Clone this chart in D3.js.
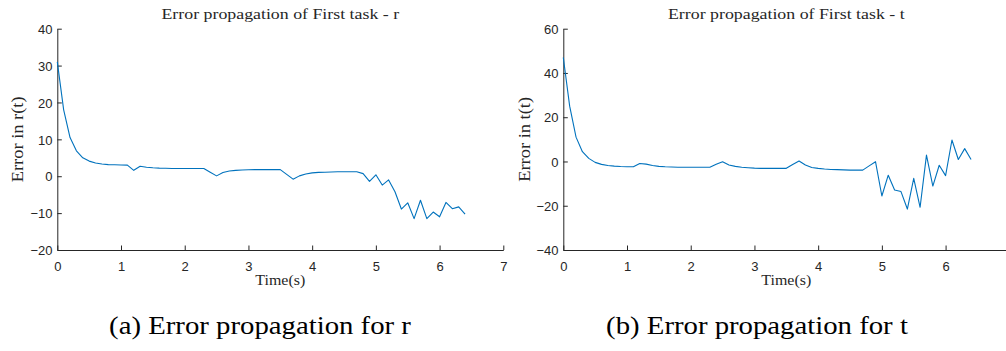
<!DOCTYPE html>
<html>
<head>
<meta charset="utf-8">
<script src="https://cdn.jsdelivr.net/npm/d3@7/dist/d3.min.js"></script>
<style>
  html, body { margin: 0; padding: 0; background: #fff; }
  svg { display: block; }
</style>
</head>
<body>
<svg id="fig" width="1006" height="351"></svg>
<script>
// Sample times (s)
const timeS = [
  0.0, 0.1, 0.2, 0.3, 0.4, 0.5, 0.6, 0.7, 0.8, 0.9,
  1.0, 1.1, 1.2, 1.3, 1.4, 1.5, 1.6, 1.7, 1.8, 1.9,
  2.0, 2.1, 2.2, 2.3, 2.4, 2.5, 2.6, 2.7, 2.8, 2.9,
  3.0, 3.1, 3.2, 3.3, 3.4, 3.5, 3.6, 3.7, 3.8, 3.9,
  4.0, 4.1, 4.2, 4.3, 4.4, 4.5, 4.6, 4.7, 4.8, 4.9,
  5.0, 5.1, 5.2, 5.3, 5.4, 5.5, 5.6, 5.7, 5.8, 5.9,
  6.0, 6.1, 6.2, 6.3, 6.4
];

// Error in r(t)
const errorR = [
  31.0, 18.0, 10.5, 6.9, 5.0, 4.1, 3.6, 3.3, 3.15, 3.1,
  3.05, 3.0, 1.6, 2.7, 2.45, 2.3, 2.2, 2.15, 2.1, 2.1,
  2.1, 2.1, 2.1, 2.1, 1.1, 0.1, 1.0, 1.4, 1.6, 1.7,
  1.75, 1.8, 1.8, 1.8, 1.8, 1.8, 0.5, -0.8, 0.1, 0.6,
  0.9, 1.05, 1.1, 1.15, 1.2, 1.2, 1.2, 1.2, 0.7, -1.4,
  0.4, -2.4, -1.0, -4.2, -8.9, -7.2, -11.5, -6.5, -11.5, -9.7,
  -11.0, -7.1, -8.8, -8.3, -10.3
];

// Error in t(t)
const errorT = [
  47.0, 25.0, 11.0, 4.4, 1.4, -0.4, -1.3, -1.8, -2.1, -2.3,
  -2.4, -2.4, -0.9, -1.2, -1.8, -2.2, -2.4, -2.5, -2.6, -2.6,
  -2.6, -2.6, -2.6, -2.6, -1.3, -0.1, -1.6, -2.2, -2.6, -2.8,
  -3.0, -3.1, -3.1, -3.1, -3.1, -3.1, -1.4, 0.2, -1.6, -2.7,
  -3.1, -3.4, -3.6, -3.7, -3.8, -3.9, -3.9, -3.9, -2.0, -0.1,
  -15.6, -6.2, -12.9, -13.6, -21.5, -7.6, -20.7, 2.9, -11.1, -1.7,
  -6.4, 9.7, 0.9, 5.8, 0.9
];

// Axis ticks (the right panel's axis runs past the page edge, so its last tick is not shown)
const timeTicksR = [0, 1, 2, 3, 4, 5, 6, 7];
const timeTicksT = [0, 1, 2, 3, 4, 5, 6];
const rTicks = [-20, -10, 0, 10, 20, 30, 40];
const tTicks = [-40, -20, 0, 20, 40, 60];

// Texts
const titles = ["Error propagation of First task - r", "Error propagation of First task - t"];
const yLabels = ["Error in r(t)", "Error in t(t)"];
const xLabel = "Time(s)";
const captions = ["(a) Error propagation for r", "(b) Error propagation for t"];

const svg = d3.select("#fig");
const axisColor = "#262626";
const lineColor = "#0072BD";
const serif = "'Liberation Serif', 'Times New Roman', serif";
const sans = "'Liberation Sans', Arial, sans-serif";

// Widen Times-metric text to the proportions of Computer Modern
function stretch(sel, k) {
  sel.each(function () {
    const w = this.getComputedTextLength();
    d3.select(this).attr("textLength", w * k).attr("lengthAdjust", "spacingAndGlyphs");
  });
}

const panels = [
  { values: errorR, yDomain: [-20, 40], yTicks: rTicks, xTicks: timeTicksR, left: 57.3, ylabX: 23, title: titles[0], ylab: yLabels[0], caption: captions[0], capX: 260 },
  { values: errorT, yDomain: [-40, 60], yTicks: tTicks, xTicks: timeTicksT, left: 563.3, ylabX: 530, title: titles[1], ylab: yLabels[1], caption: captions[1], capX: 757 }
];

const plotW = 446, plotTop = 28.7, plotBottom = 250, tickLen = 4.5;

panels.forEach(p => {
  const x = d3.scaleLinear().domain([0, 7]).range([p.left, p.left + plotW]);
  const y = d3.scaleLinear().domain(p.yDomain).range([plotBottom, plotTop]);
  const g = svg.append("g");

  // X axis (ticks pointing inward)
  const xAxis = d3.axisBottom(x).tickValues(p.xTicks).tickFormat(d3.format("d"))
    .tickSizeInner(-tickLen).tickSizeOuter(0).tickPadding(9);
  const gx = g.append("g").attr("transform", `translate(0,${plotBottom})`).call(xAxis);

  // Y axis (ticks pointing inward)
  const yAxis = d3.axisLeft(y).tickValues(p.yTicks).tickFormat(d3.format("d"))
    .tickSizeInner(-tickLen).tickSizeOuter(0).tickPadding(4.8);
  const gy = g.append("g").attr("transform", `translate(${p.left},0)`).call(yAxis);

  [gx, gy].forEach(a => {
    a.select(".domain").attr("stroke", axisColor).attr("stroke-width", 1);
    a.selectAll(".tick line").attr("stroke", axisColor).attr("stroke-width", 1);
    a.selectAll(".tick text").attr("fill", axisColor).attr("font-family", sans).attr("font-size", 13);
  });
  gx.selectAll(".tick text").attr("dy", "0.71em").attr("y", 11.5);
  gy.selectAll(".tick text").attr("dy", "0.36em");

  // Series line
  const line = d3.line().x((d, i) => x(timeS[i])).y(d => y(d));
  g.append("path").datum(p.values)
    .attr("fill", "none").attr("stroke", lineColor).attr("stroke-width", 1.1)
    .attr("stroke-linejoin", "round").attr("d", line);

  const cx = (x(0) + x(7)) / 2;

  // Title
  g.append("text").attr("x", cx).attr("y", 19).attr("text-anchor", "middle")
    .attr("font-family", serif).attr("font-size", 15.5).attr("fill", axisColor)
    .text(p.title).call(stretch, 1.15);

  // X label
  g.append("text").attr("x", cx).attr("y", 285).attr("text-anchor", "middle")
    .attr("font-family", serif).attr("font-size", 14.5).attr("fill", axisColor)
    .text(xLabel).call(stretch, 1.1);

  // Y label
  g.append("text").attr("transform", `translate(${p.ylabX},${(plotTop + plotBottom) / 2}) rotate(-90)`)
    .attr("text-anchor", "middle")
    .attr("font-family", serif).attr("font-size", 16).attr("fill", axisColor)
    .text(p.ylab).call(stretch, 1.15);

  // Sub-caption
  svg.append("text").attr("x", p.capX).attr("y", 334).attr("text-anchor", "middle")
    .attr("font-family", serif).attr("font-size", 25).attr("fill", "#000")
    .text(p.caption).call(stretch, 1.15);
});
</script>
</body>
</html>
